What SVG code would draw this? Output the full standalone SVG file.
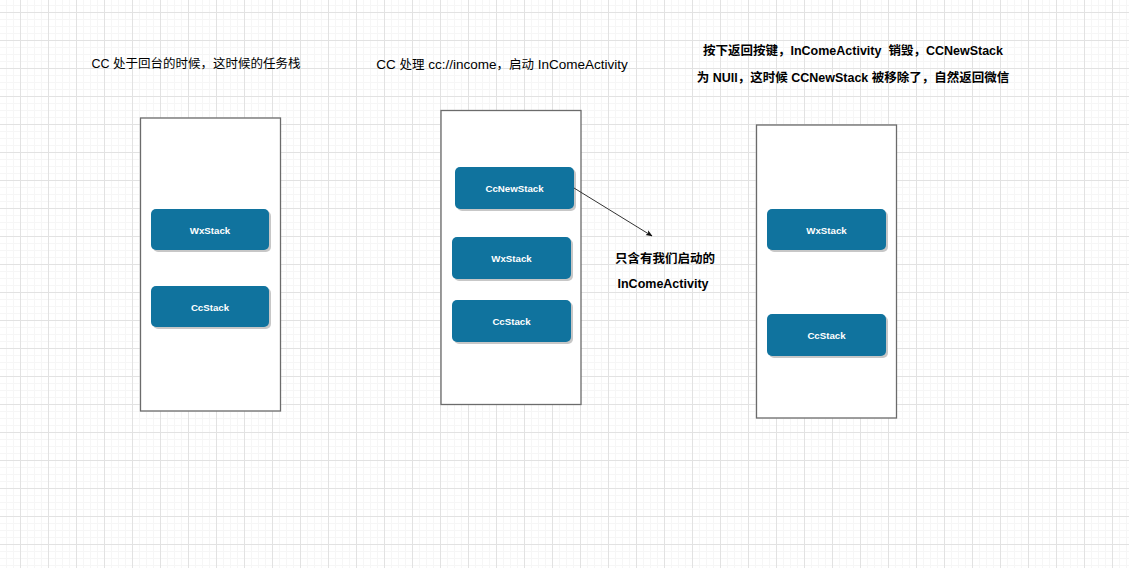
<svg xmlns="http://www.w3.org/2000/svg" width="1129" height="568" viewBox="0 0 1129 568">
<style>
.t{font-family:"Liberation Sans","Noto Sans CJK SC",sans-serif;font-size:12.5px;fill:#000;text-anchor:middle}
.b{font-weight:bold}
.box{fill:#fff;stroke:#6b6b6b;stroke-width:1.3}
.n{fill:#10739e}
.sh{fill:#000;opacity:0.22}
.nt{font-family:"Liberation Sans",Arial,sans-serif;font-size:9.7px;font-weight:bold;fill:#fff;text-anchor:middle}
.edge{stroke:#333;stroke-width:1;fill:none}
</style>
<defs>
<pattern id="minor" patternUnits="userSpaceOnUse" x="20" y="12" width="7" height="7">
<path d="M0 0.5H7M0.5 0V7" stroke="#f6f6f6" stroke-width="1" fill="none"/>
</pattern>
<pattern id="major" patternUnits="userSpaceOnUse" x="20" y="12" width="28" height="28">
<path d="M0 0.5H28M0.5 0V28" stroke="#e2e2e2" stroke-width="1" fill="none"/>
</pattern>
<marker id="arr" viewBox="0 0 10 10" refX="9" refY="5" markerWidth="7" markerHeight="7" orient="auto" markerUnits="userSpaceOnUse">
<path d="M0 1L10 5L0 9L2.5 5Z" fill="#111"/>
</marker>
</defs>
<rect width="1129" height="568" fill="#fff"/>
<rect width="1129" height="568" fill="url(#minor)"/>
<rect width="1129" height="568" fill="url(#major)"/>

<g id="title1"><text class="t" x="196" y="68">CC 处于回台的时候，这时候的任务栈</text></g>
<g id="title2"><text class="t" x="502" y="69"><tspan font-size="13.5px">CC </tspan>处理<tspan font-size="13.5px"> cc://income</tspan>，启动<tspan font-size="13.5px"> InComeActivity</tspan></text></g>
<g id="title3">
<text class="t b" x="853" y="55" xml:space="preserve">按下返回按键，InComeActivity  销毁，CCNewStack</text>
<text class="t b" x="853" y="82">为 NUll，这时候 CCNewStack 被移除了，自然返回微信</text>
</g>
<g id="note"><text class="t b" x="665" y="263">只含有我们启动的</text><text class="t b" x="663" y="288">InComeActivity</text></g>

<g id="stack1"><rect class="box" x="140.5" y="118" width="140" height="293"/></g>
<g id="stack2"><rect class="box" x="441" y="110.5" width="140" height="294"/></g>
<g id="stack3"><rect class="box" x="756.5" y="125" width="140" height="293"/></g>

<g id="wx1"><rect class="sh" x="153" y="211" width="118" height="41" rx="5"/><rect class="n" x="151" y="209" width="118" height="41" rx="5"/><text class="nt" x="210" y="234">WxStack</text></g>
<g id="cc1"><rect class="sh" x="153" y="288" width="118" height="41" rx="5"/><rect class="n" x="151" y="286" width="118" height="41" rx="5"/><text class="nt" x="210" y="311">CcStack</text></g>

<g id="ccnew2"><rect class="sh" x="457" y="169" width="119" height="42" rx="5"/><rect class="n" x="455" y="167" width="119" height="42" rx="5"/><text class="nt" x="514.5" y="192">CcNewStack</text></g>
<g id="wx2"><rect class="sh" x="454" y="239" width="119" height="42" rx="5"/><rect class="n" x="452" y="237" width="119" height="42" rx="5"/><text class="nt" x="511.5" y="262">WxStack</text></g>
<g id="cc2"><rect class="sh" x="454" y="302" width="119" height="42" rx="5"/><rect class="n" x="452" y="300" width="119" height="42" rx="5"/><text class="nt" x="511.5" y="325">CcStack</text></g>

<g id="wx3"><rect class="sh" x="769" y="211" width="119" height="41" rx="5"/><rect class="n" x="767" y="209" width="119" height="41" rx="5"/><text class="nt" x="826.5" y="234">WxStack</text></g>
<g id="cc3"><rect class="sh" x="769" y="316" width="119" height="42" rx="5"/><rect class="n" x="767" y="314" width="119" height="42" rx="5"/><text class="nt" x="826.5" y="339">CcStack</text></g>

<g id="connectors">
<path class="edge" d="M574 188L652 236" marker-end="url(#arr)"/>
</g>
</svg>
